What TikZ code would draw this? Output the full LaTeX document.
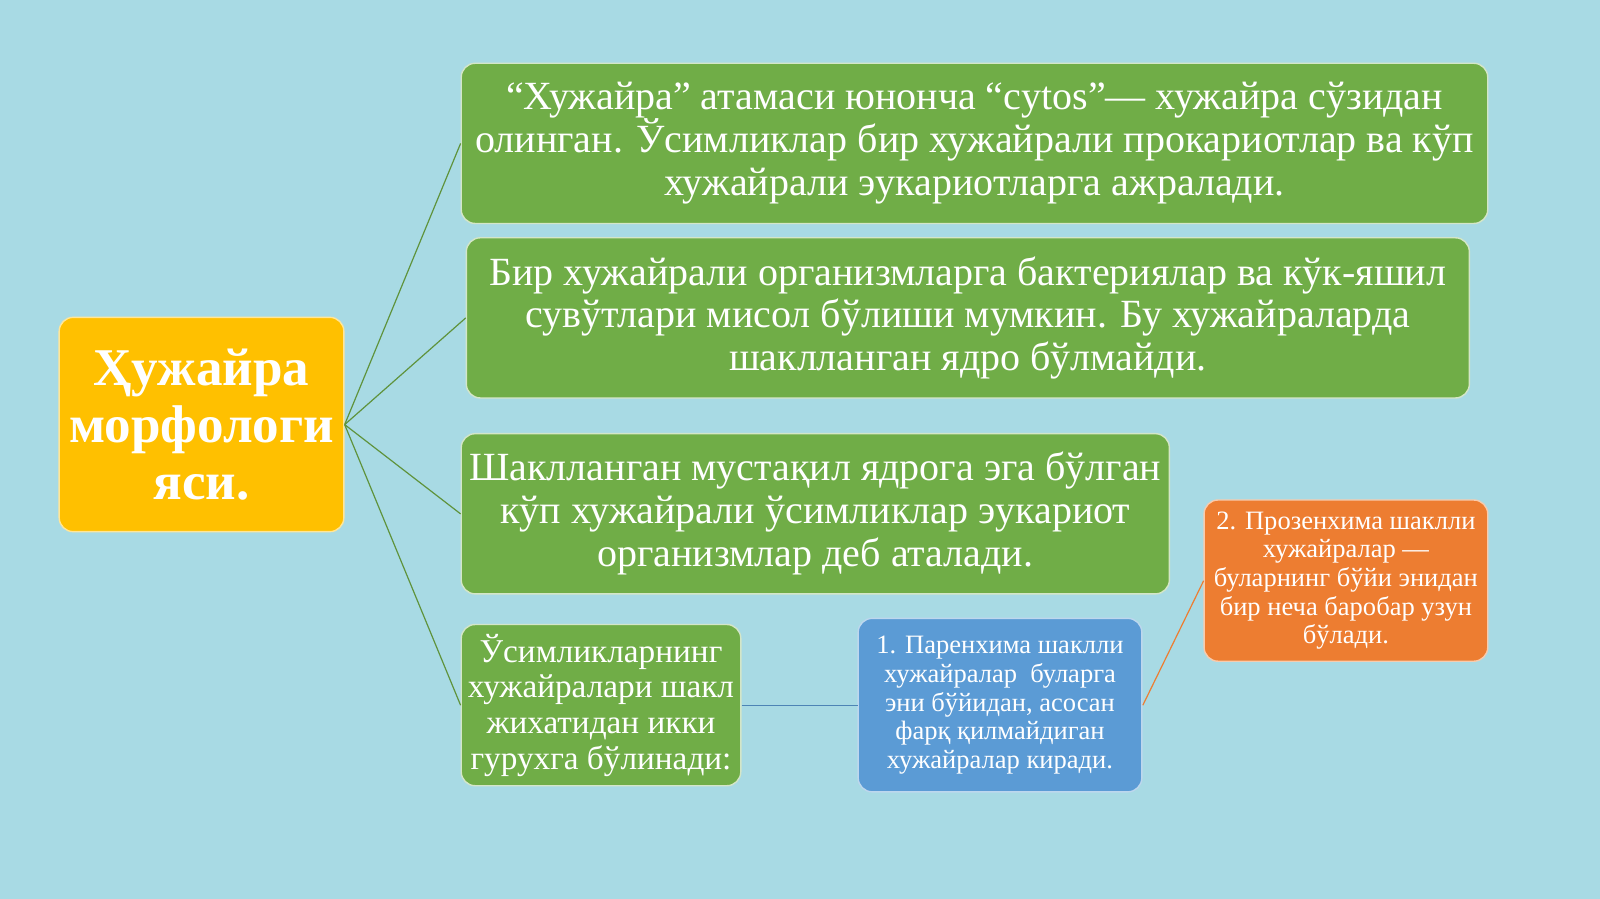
\documentclass[tikz,border=0pt]{standalone}
\usepackage{fontspec}
\setmainfont{Liberation Serif}
\usetikzlibrary{calc}
\definecolor{drop}{RGB}{168,218,228}
\definecolor{leaf}{RGB}{112,173,71}
\definecolor{sun}{RGB}{255,192,0}
\definecolor{sky}{RGB}{91,155,213}
\definecolor{rust}{RGB}{237,125,49}
\tikzstyle{line}=[draw, line width=0.6pt]
\tikzstyle{cell}=[rounded corners=7pt, draw=white!70!leaf, line width=0.7pt, text=white, align=center, inner sep=0pt]

\begin{document}
\begin{tikzpicture}[x=0.5pt, y=-0.5pt, scale=1.0204, transform shape]
	\useasboundingbox (0,0) rectangle (1568,881);
	\fill[drop] (0,0) rectangle (1568,881);

	% main block
	\node[cell, fill=sun, draw=white!60!sun, minimum width=139.5pt, minimum height=105pt,
		font=\fontsize{26}{28}\selectfont\bfseries] (morph) at (197.5,416)
		{Ҳужайра\\морфологи\\яси.};

	% branches
	\node[cell, fill=leaf, minimum width=503pt, minimum height=78.5pt,
		font=\fontsize{19.6}{21}\selectfont] (atama) at (955,140.5)
		{“Хужайра” атамаси юнонча “cytos”— хужайра сўзидан\\олинган. Ўсимликлар бир хужайрали прокариотлар ва кўп\\хужайрали эукариотларга ажралади.};
	\node[cell, fill=leaf, minimum width=491.5pt, minimum height=78.5pt,
		font=\fontsize{19.6}{21}\selectfont] (prok) at (948.5,311.5)
		{Бир хужайрали организмларга бактериялар ва кўк-яшил\\сувўтлари мисол бўлиши мумкин. Бу хужайраларда\\шаклланган ядро бўлмайди.};
	\node[cell, fill=leaf, minimum width=347pt, minimum height=78.5pt,
		font=\fontsize{19.6}{21}\selectfont] (euk) at (799,503.5)
		{Шаклланган мустақил ядрога эга бўлган\\кўп хужайрали ўсимликлар эукариот\\организмлар деб аталади.};
	\node[cell, fill=leaf, minimum width=137pt, minimum height=79pt,
		font=\fontsize{16.3}{17.5}\selectfont] (shakl) at (589,691)
		{Ўсимликларнинг\\хужайралари шакл\\жихатидан икки\\гурухга бўлинади:};

	% two kinds
	\node[cell, fill=sky, draw=white!60!sky, minimum width=139pt, minimum height=85pt,
		font=\fontsize{13}{14}\selectfont] (paren) at (980,691)
		{1. Паренхима шаклли\\хужайралар\ \ буларга\\эни бўйидан, асосан\hspace*{1em}\\фарқ қилмайдиган\\хужайралар киради.};
	\node[cell, fill=rust, draw=white!60!rust, minimum width=139pt, minimum height=79pt,
		font=\fontsize{13}{14}\selectfont] (prozen) at (1319,569)
		{2. Прозенхима шаклли\\хужайралар —\\буларнинг бўйи энидан\\бир неча баробар узун\\бўлади.};

	% connectors
	\foreach \target in {atama,prok,euk,shakl}
	\draw[line, leaf!85!black] (morph.east) -- (\target.west);
	\draw[line, sky!85!black] (shakl.east) -- (paren.west);
	\draw[line, rust] (paren.east) -- (prozen.west);
\end{tikzpicture}
\end{document}
